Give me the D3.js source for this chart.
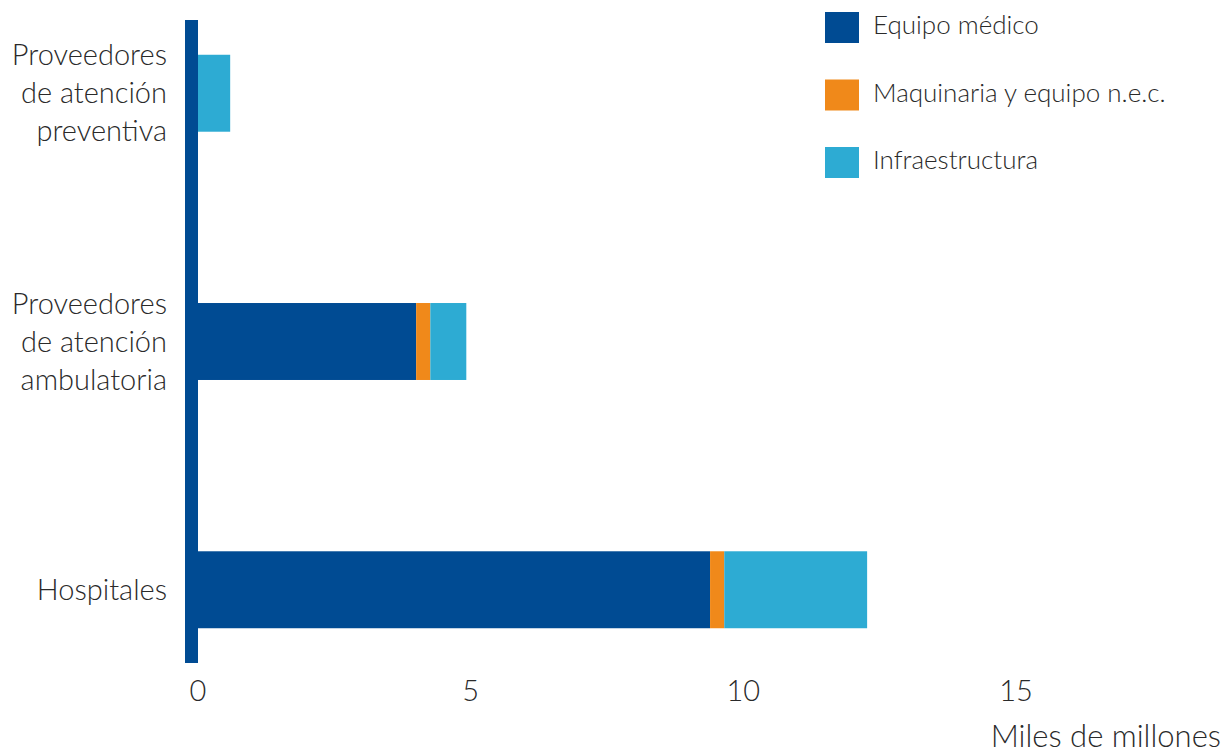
<!DOCTYPE html>
<html>
<head>
<meta charset="utf-8">
<script src="https://cdn.jsdelivr.net/npm/d3@7"></script>
<style>
  body { margin: 0; background: #fff; }
  text { font-family: Lato, "Open Sans", sans-serif; font-weight: 300; fill: #2a2a2a; }
</style>
</head>
<body>
<div id="graphicContainer"></div>
<script>

const categories = ["Proveedores de atención preventiva", "Proveedores de atención ambulatoria", "Hospitales"]

const categoryLines = [
  ["Proveedores", "de atención", "preventiva"],
  ["Proveedores", "de atención", "ambulatoria"],
  ["Hospitales"]
]

const keys = ["Equipo médico", "Maquinaria y equipo n.e.c.", "Infraestructura"]

const equipoMedico = [0, 4.0, 9.39]
const maquinaria = [0, 0.26, 0.26]
const infraestructura = [0.59, 0.66, 2.62]

const xTicks = [0, 5, 10, 15]

const colors = ["#004b93", "#f0891a", "#2dabd3"]

const width = 1230
const height = 753
const marginleft = 198
const axisTop = 20
const axisBottom = 663

const data = categories.map((c, i) => ({
  category: c,
  "Equipo médico": equipoMedico[i],
  "Maquinaria y equipo n.e.c.": maquinaria[i],
  "Infraestructura": infraestructura[i]
}))

const svg = d3.select("#graphicContainer").append("svg")
  .attr("width", width)
  .attr("height", height)

const x = d3.scaleLinear()
  .domain([0, 15])
  .range([marginleft, 1016])

const y = d3.scaleBand()
  .domain(categories)
  .range([axisTop, axisBottom])
  .paddingInner(0.69)
  .paddingOuter(0.14)

const color = d3.scaleOrdinal().domain(keys).range(colors)

const series = d3.stack().keys(keys)(data)

svg.append("g")
  .selectAll("g")
  .data(series)
  .enter()
  .append("g")
  .attr("fill", d => color(d.key))
  .selectAll("rect")
  .data(d => d)
  .enter()
  .append("rect")
  .attr("x", d => x(d[0]))
  .attr("y", d => y(d.data.category))
  .attr("width", d => x(d[1]) - x(d[0]))
  .attr("height", y.bandwidth())

// thick axis line
svg.append("rect")
  .attr("x", x(0) - 13)
  .attr("y", axisTop)
  .attr("width", 13)
  .attr("height", axisBottom - axisTop)
  .attr("fill", "#004b93")

// category labels
const labels = svg.append("g")
  .selectAll("text")
  .data(categories)
  .enter()
  .append("text")
  .attr("text-anchor", "end")
  .attr("font-size", 29)

labels.each(function(d, i) {
  const lines = categoryLines[i]
  const lh = 38
  const cy = y(d) + y.bandwidth() / 2
  const start = cy - (lines.length - 1) * lh / 2
  d3.select(this).selectAll("tspan")
    .data(lines)
    .enter()
    .append("tspan")
    .attr("x", 167)
    .attr("y", (l, j) => start + j * lh)
    .attr("dy", "0.35em")
    .text(l => l)
})

// x tick labels
svg.append("g")
  .selectAll("text")
  .data(xTicks)
  .enter()
  .append("text")
  .attr("x", d => x(d))
  .attr("y", 691)
  .attr("dy", "0.35em")
  .attr("text-anchor", "middle")
  .attr("font-size", 29)
  .text(d => d)

svg.append("text")
  .attr("x", 1221)
  .attr("y", 736)
  .attr("dy", "0.35em")
  .attr("text-anchor", "end")
  .attr("font-size", 31)
  .text("Miles de millones")

// legend
const legend = svg.append("g")
  .selectAll("g")
  .data(keys)
  .enter()
  .append("g")
  .attr("transform", (d, i) => `translate(825,${12 + i * 67.5})`)

legend.append("rect")
  .attr("width", 34)
  .attr("height", 31)
  .attr("fill", d => color(d))

legend.append("text")
  .attr("x", 48)
  .attr("y", 13)
  .attr("dy", "0.35em")
  .attr("font-size", 26)
  .text(d => d)

</script>
</body>
</html>
